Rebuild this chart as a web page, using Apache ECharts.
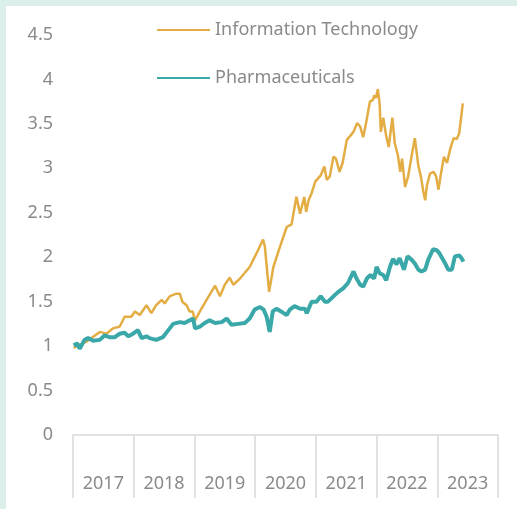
<!DOCTYPE html>
<html>
<head>
<meta charset="utf-8">
<script src="https://cdn.jsdelivr.net/npm/echarts@6/dist/echarts.min.js"></script>
<style>
  html, body { margin: 0; padding: 0; background: #dbf0ea; }
  #chart { position: absolute; left: 6px; top: 6px; width: 511px; height: 503px; background: #fff; }
</style>
</head>
<body>
<div id="chart"></div>
<script>
// year labels on the axis
var years = ['2017', '2018', '2019', '2020', '2021', '2022', '2023']
var yTicks = [0, 0.5, 1, 1.5, 2, 2.5, 3, 3.5, 4, 4.5]

// dates as decimal years
var itDates = [2017.01, 2017.22, 2017.44, 2017.55, 2017.66, 2017.77, 2017.85, 2017.96, 2018.02, 2018.10,
  2018.21, 2018.29, 2018.37, 2018.46, 2018.51, 2018.59, 2018.70, 2018.76, 2018.80, 2018.87,
  2018.92, 2018.97, 2019.01, 2019.09, 2019.20, 2019.34, 2019.42, 2019.50, 2019.58, 2019.64,
  2019.75, 2019.91, 2020.02, 2020.13, 2020.16, 2020.23, 2020.30, 2020.41, 2020.52, 2020.60,
  2020.68, 2020.74, 2020.81, 2020.84, 2020.88, 2020.93, 2020.99, 2021.04, 2021.08, 2021.14,
  2021.18, 2021.23, 2021.29, 2021.33, 2021.39, 2021.44, 2021.51, 2021.56, 2021.62, 2021.68,
  2021.73, 2021.78, 2021.83, 2021.89, 2021.94, 2021.96, 2021.99, 2022.02, 2022.05, 2022.07,
  2022.11, 2022.16, 2022.20, 2022.26, 2022.30, 2022.35, 2022.39, 2022.42, 2022.47, 2022.52,
  2022.58, 2022.63, 2022.69, 2022.73, 2022.77, 2022.80, 2022.83, 2022.88, 2022.94, 2022.98,
  2023.02, 2023.06, 2023.11, 2023.16, 2023.21, 2023.27, 2023.32, 2023.36, 2023.42]
var itValues = [0.98, 1.05, 1.16, 1.14, 1.20, 1.22, 1.33, 1.33, 1.39, 1.35,
  1.46, 1.37, 1.46, 1.52, 1.48, 1.56, 1.59, 1.59, 1.50, 1.46,
  1.39, 1.39, 1.29, 1.39, 1.52, 1.68, 1.56, 1.69, 1.77, 1.69,
  1.76, 1.89, 2.04, 2.20, 2.12, 1.61, 1.89, 2.12, 2.34, 2.37,
  2.68, 2.49, 2.68, 2.51, 2.64, 2.72, 2.85, 2.89, 2.92, 3.02,
  2.87, 2.91, 3.13, 3.11, 2.96, 3.06, 3.32, 3.36, 3.41, 3.51,
  3.47, 3.35, 3.52, 3.75, 3.77, 3.82, 3.79, 3.89, 3.73, 3.41,
  3.57, 3.36, 3.24, 3.57, 3.28, 3.15, 2.96, 3.11, 2.79, 2.91,
  3.15, 3.34, 3.02, 2.91, 2.74, 2.64, 2.81, 2.94, 2.96, 2.91,
  2.76, 2.94, 3.13, 3.06, 3.21, 3.34, 3.33, 3.39, 3.73]

var phDates = [2017.01, 2017.07, 2017.11, 2017.19, 2017.25, 2017.33, 2017.44, 2017.52, 2017.60, 2017.69,
  2017.77, 2017.85, 2017.91, 2017.99, 2018.07, 2018.13, 2018.21, 2018.26, 2018.37, 2018.48,
  2018.57, 2018.65, 2018.76, 2018.84, 2018.92, 2018.98, 2019.01, 2019.09, 2019.17, 2019.25,
  2019.34, 2019.45, 2019.53, 2019.61, 2019.72, 2019.83, 2019.91, 2019.99, 2020.08, 2020.14,
  2020.19, 2020.24, 2020.29, 2020.35, 2020.45, 2020.52, 2020.57, 2020.65, 2020.74, 2020.82,
  2020.85, 2020.93, 2021.01, 2021.08, 2021.15, 2021.20, 2021.29, 2021.37, 2021.45, 2021.53,
  2021.62, 2021.67, 2021.73, 2021.78, 2021.84, 2021.90, 2021.96, 2022.00, 2022.05, 2022.11,
  2022.16, 2022.22, 2022.27, 2022.33, 2022.38, 2022.45, 2022.51, 2022.58, 2022.63, 2022.69,
  2022.74, 2022.80, 2022.85, 2022.93, 2022.99, 2023.04, 2023.13, 2023.18, 2023.24, 2023.29,
  2023.36, 2023.40, 2023.43]
var phValues = [1.01, 1.03, 0.97, 1.07, 1.09, 1.06, 1.07, 1.12, 1.10, 1.10,
  1.14, 1.15, 1.11, 1.14, 1.18, 1.09, 1.11, 1.09, 1.07, 1.10,
  1.18, 1.25, 1.27, 1.26, 1.29, 1.31, 1.20, 1.22, 1.26, 1.29,
  1.26, 1.27, 1.31, 1.24, 1.25, 1.26, 1.31, 1.41, 1.44, 1.41,
  1.33, 1.16, 1.39, 1.42, 1.38, 1.35, 1.41, 1.45, 1.42, 1.42,
  1.37, 1.50, 1.50, 1.56, 1.50, 1.50, 1.56, 1.61, 1.65, 1.71,
  1.84, 1.76, 1.69, 1.67, 1.76, 1.80, 1.76, 1.89, 1.82, 1.80,
  1.74, 1.89, 1.98, 1.92, 1.99, 1.86, 2.01, 1.97, 1.93, 1.86,
  1.84, 1.86, 1.97, 2.09, 2.08, 2.04, 1.93, 1.86, 1.86, 2.01,
  2.02, 1.99, 1.95]

function pairs(xs, ys) {
  return xs.map(function (x, i) { return [x, ys[i]] })
}

var font = '"Noto Sans", Lato, sans-serif'
var grey = '#8a8a8a'

var chart = echarts.init(document.getElementById('chart'))
chart.setOption({
  animation: false,
  legend: {
    orient: 'vertical',
    left: 145,
    top: 10,
    itemWidth: 53,
    itemHeight: 18,
    itemGap: 30,
    itemStyle: { opacity: 0 },
    textStyle: { color: grey, fontSize: 18, fontFamily: font }
  },
  grid: { left: 67, right: 19, top: 29, bottom: 74 },
  xAxis: [
    {
      type: 'category',
      data: years,
      boundaryGap: true,
      axisLine: { show: true, lineStyle: { color: '#d9d9d9', width: 1.5 } },
      axisTick: { show: true, interval: 0, length: 63, lineStyle: { color: '#d9d9d9', width: 1.5 } },
      axisLabel: { color: grey, fontSize: 18, fontFamily: font, margin: 40, interval: 0 },
      splitLine: { show: false }
    },
    {
      type: 'value',
      min: 2017,
      max: 2024,
      show: false
    }
  ],
  yAxis: {
    type: 'value',
    min: yTicks[0],
    max: yTicks[yTicks.length - 1],
    interval: 0.5,
    axisLine: { show: false },
    axisTick: { show: false },
    splitLine: { show: false },
    axisLabel: { color: grey, fontSize: 18, fontFamily: font, margin: 20 }
  },
  series: [
    {
      name: 'Information Technology',
      type: 'line',
      xAxisIndex: 1,
      symbol: 'none',
      data: pairs(itDates, itValues),
      lineStyle: { color: '#e3ad44', width: 2.5 },
      itemStyle: { color: '#e3ad44' }
    },
    {
      name: 'Pharmaceuticals',
      type: 'line',
      xAxisIndex: 1,
      symbol: 'none',
      data: pairs(phDates, phValues),
      lineStyle: { color: '#3aa8a8', width: 4 },
      itemStyle: { color: '#3aa8a8' }
    }
  ]
})
</script>
</body>
</html>
